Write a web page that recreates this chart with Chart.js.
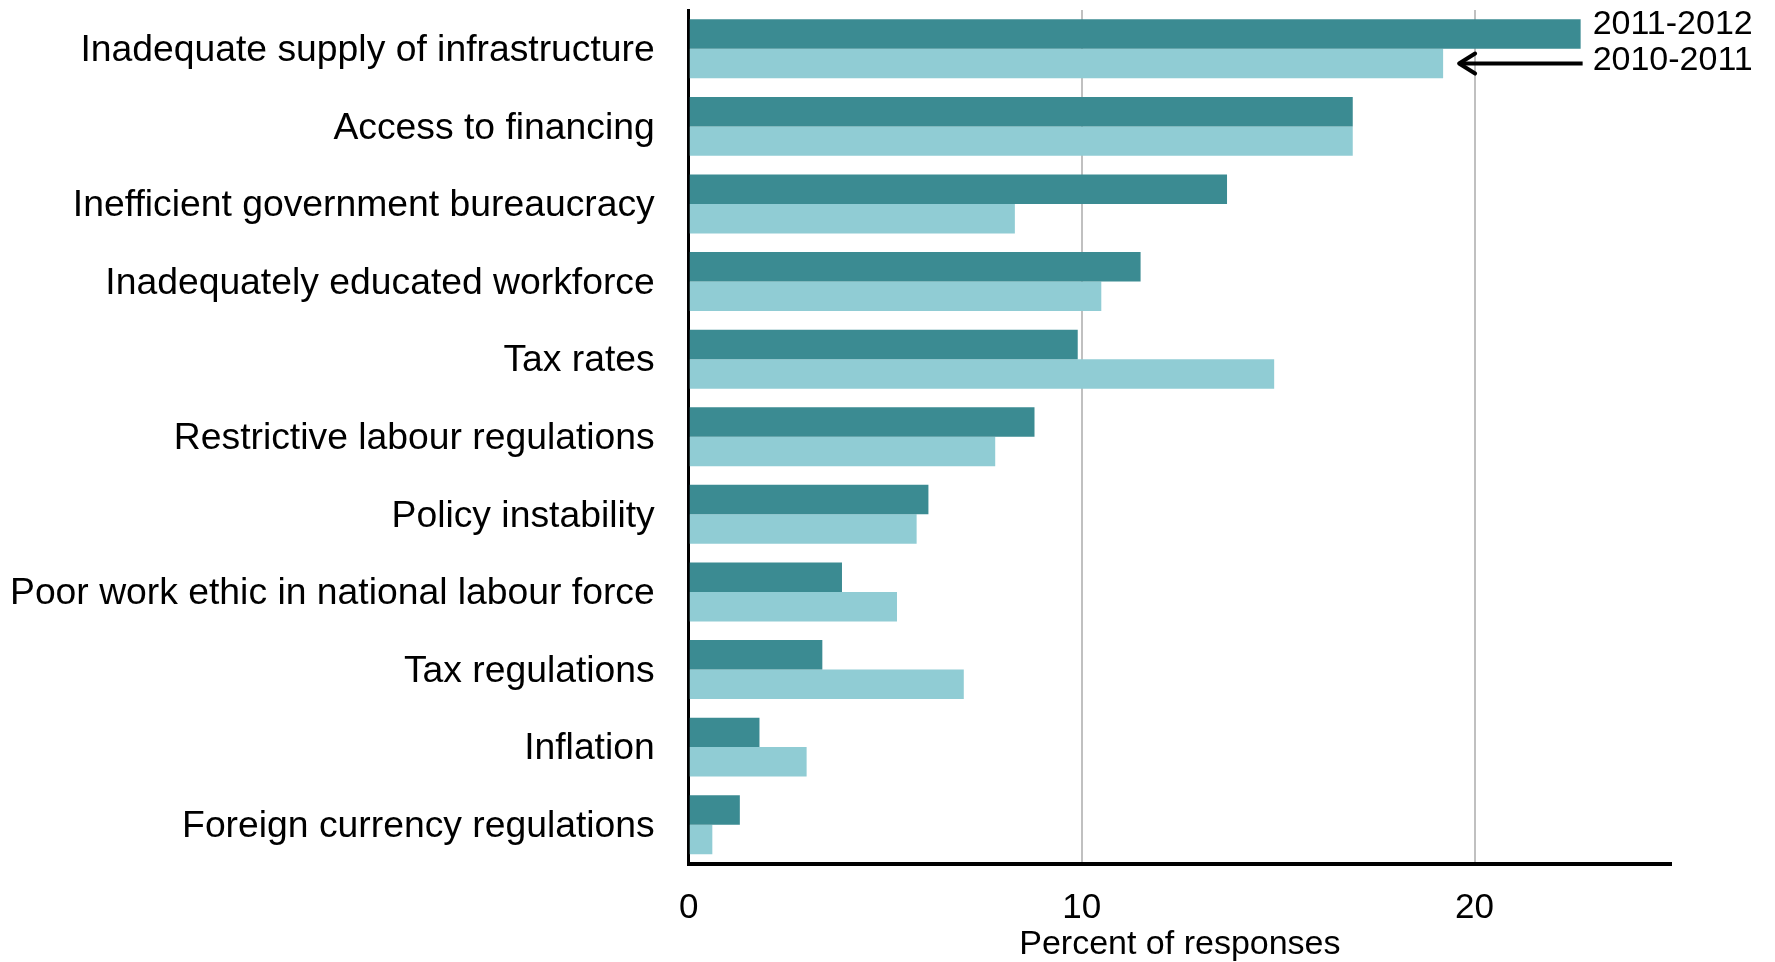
<!DOCTYPE html>
<html>
<head>
<meta charset="utf-8">
<script src="https://cdn.jsdelivr.net/npm/chart.js@4/dist/chart.umd.min.js"></script>
<style>
  html, body { margin: 0; padding: 0; background: #fff; }
  #wrap { width: 1775px; height: 962px; position: relative; }
</style>
</head>
<body>
<div id="wrap"><canvas id="chart"></canvas></div>
<script>
'use strict';

var categories = [
  'Inadequate supply of infrastructure',
  'Access to financing',
  'Inefficient government bureaucracy',
  'Inadequately educated workforce',
  'Tax rates',
  'Restrictive labour regulations',
  'Policy instability',
  'Poor work ethic in national labour force',
  'Tax regulations',
  'Inflation',
  'Foreign currency regulations'
];
var seriesNames = ['2011-2012', '2010-2011'];
var values2011_2012 = [22.7, 16.9, 13.7, 11.5, 9.9, 8.8, 6.1, 3.9, 3.4, 1.8, 1.3];
var values2010_2011 = [19.2, 16.9, 8.3, 10.5, 14.9, 7.8, 5.8, 5.3, 7.0, 3.0, 0.6];
var xTicks = [0, 10, 20];
var xMax = 25;
var xTitle = 'Percent of responses';

var FONT = '"Liberation Sans", Arial, sans-serif';
var X_PAD = 26;
var Y_PAD = 34;

// labels the two bars of the first category, arrow points at the lighter one
var seriesLabels = {
  id: 'seriesLabels',
  afterDatasetsDraw: function(chart) {
    var ctx = chart.ctx;
    var dark = chart.getDatasetMeta(0).data[0];
    var light = chart.getDatasetMeta(1).data[0];
    var textX = dark.x + 12;
    ctx.save();
    ctx.fillStyle = '#000';
    ctx.font = '34px ' + FONT;
    ctx.textAlign = 'left';
    ctx.textBaseline = 'middle';
    ctx.fillText(seriesNames[0], textX, dark.y - 9);
    ctx.fillText(seriesNames[1], textX, light.y - 3);

    var tipX = light.x + 14;
    var y = light.y;
    ctx.strokeStyle = '#000';
    ctx.lineWidth = 4;
    ctx.lineCap = 'butt';
    ctx.beginPath();
    ctx.moveTo(textX - 10, y);
    ctx.lineTo(tipX + 2, y);
    ctx.stroke();
    ctx.lineCap = 'round';
    ctx.lineJoin = 'round';
    ctx.beginPath();
    ctx.moveTo(tipX + 18, y - 10);
    ctx.lineTo(tipX + 2, y);
    ctx.lineTo(tipX + 18, y + 10);
    ctx.stroke();
    ctx.restore();
  }
};

var chart = new Chart(document.getElementById('chart'), {
  type: 'bar',
  data: {
    labels: categories,
    datasets: [{
      label: seriesNames[0],
      data: values2011_2012,
      backgroundColor: '#3b8b92'
    }, {
      label: seriesNames[1],
      data: values2010_2011,
      backgroundColor: '#90ccd4'
    }]
  },
  options: {
    indexAxis: 'y',
    responsive: true,
    maintainAspectRatio: false,
    animation: false,
    layout: { padding: { left: 10, right: 104, top: 10, bottom: 0 } },
    datasets: {
      bar: { barPercentage: 1.0, categoryPercentage: 0.76 }
    },
    plugins: {
      legend: { display: false },
      tooltip: { enabled: false }
    },
    scales: {
      x: {
        min: 0,
        max: xMax,
        afterBuildTicks: function(scale) {
          scale.ticks = xTicks.map(function(v) { return { value: v }; });
        },
        // chart.js reserves tick padding twice, keep it once
        afterFit: function(scale) {
          scale.height -= X_PAD;
        },
        grid: {
          color: function(c) { return c.tick && c.tick.value === 0 ? 'rgba(0,0,0,0)' : '#c0c0c0'; },
          lineWidth: 2,
          drawTicks: false
        },
        border: { color: '#000', width: 4 },
        ticks: {
          color: '#000',
          font: { family: FONT, size: 35, lineHeight: 1.1 },
          padding: X_PAD
        },
        title: {
          display: true,
          text: xTitle,
          color: '#000',
          font: { family: FONT, size: 34, lineHeight: 1.0 },
          padding: { top: 0, bottom: 0 }
        }
      },
      y: {
        afterFit: function(scale) {
          scale.width -= Y_PAD;
          scale.paddingTop = 0;
          scale.paddingBottom = 0;
        },
        grid: { display: false, drawTicks: false },
        border: { color: '#000', width: 3 },
        ticks: {
          color: '#000',
          font: { family: FONT, size: 37.3 },
          padding: Y_PAD,
          labelOffset: 2
        }
      }
    }
  },
  plugins: [seriesLabels]
});
</script>
</body>
</html>
